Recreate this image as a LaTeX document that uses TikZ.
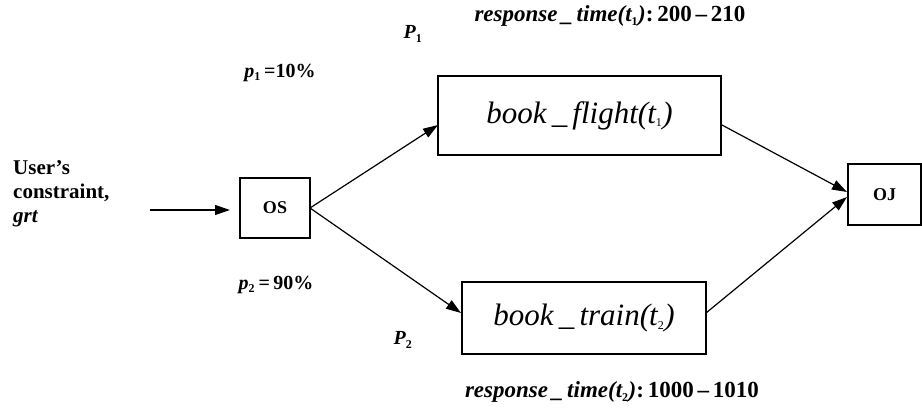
\documentclass[tikz,border=0pt]{standalone}
\usepackage{fontspec}
\setmainfont{Liberation Serif}
\usetikzlibrary{arrows.meta}
\newcommand{\sbs}[1]{\textsubscript{\fontsize{12}{12}\selectfont\upshape #1}}
\begin{document}
\begin{tikzpicture}[x=1pt,y=-1pt,
  box/.style={draw,line width=1.1pt,inner sep=0pt},
  conn/.style={line width=1.2pt,-{Triangle[length=15pt,width=10pt]}},
  lbl/.style={inner sep=0pt,font=\fontsize{20}{24}\selectfont\bfseries\itshape},
  rtl/.style={inner sep=0pt,font=\fontsize{23}{26}\selectfont\bfseries\itshape},
  big/.style={font=\fontsize{31}{34}\selectfont\itshape}]
\path[use as bounding box] (0,0) rectangle (922,417);
\node[box,minimum width=70pt,minimum height=60pt,font=\fontsize{18}{20}\selectfont\bfseries] (os) at (275,208) {OS};
\node[box,minimum width=73pt,minimum height=61pt,font=\fontsize{18}{20}\selectfont\bfseries] (oj) at (884.5,194.5) {OJ};
\node[box,minimum width=283pt,minimum height=79pt,big] (fl) at (579.5,115.5) {book\,\_\,flight(\kern-1pt t\sbs{1})};
\node[box,minimum width=244pt,minimum height=72pt,big] (tr) at (584,318) {book\,\_\,train(\kern-1pt t\sbs{2})};
\node[align=left,anchor=north west,inner sep=0pt,font=\fontsize{21}{24}\selectfont\bfseries] (user) at (13,160) {User’s\\constraint,\\ \textit{grt}};
\coordinate (in) at (150,210);
\coordinate (inend) at (240,210);
\draw[conn] (in) -- ([xshift=-10pt]inend);
\coordinate (osr) at (310,208);
\coordinate (flin) at (438,125);
\coordinate (trin) at (461,313);
\coordinate (flout) at (722,125);
\coordinate (trout) at (706,313);
\coordinate (oj1) at (847,192);
\coordinate (oj2) at (847,197);
\draw[conn] (osr) -- (flin);
\draw[conn] (osr) -- (trin);
\draw[conn] (flout) -- (oj1);
\draw[conn] (trout) -- (oj2);
\node[lbl] (P1) at (413,34) {P\sbs{1}};
\node[lbl] (P2) at (403,340) {P\sbs{2}};
\node[rtl] (rt1) at (610,16) {response\,\_\,time(t\sbs{1})\upshape:\,200\,–\,210};
\node[rtl] (rt2) at (612,392) {response\,\_\,time(t\sbs{2})\upshape:\,1000\,–\,1010};
\node[lbl] (p1) at (280,73) {p\sbs{1}\,\upshape=10\%};
\node[lbl] (p2) at (276,285) {p\sbs{2}\,\upshape=\,90\%};
\end{tikzpicture}
\end{document}
